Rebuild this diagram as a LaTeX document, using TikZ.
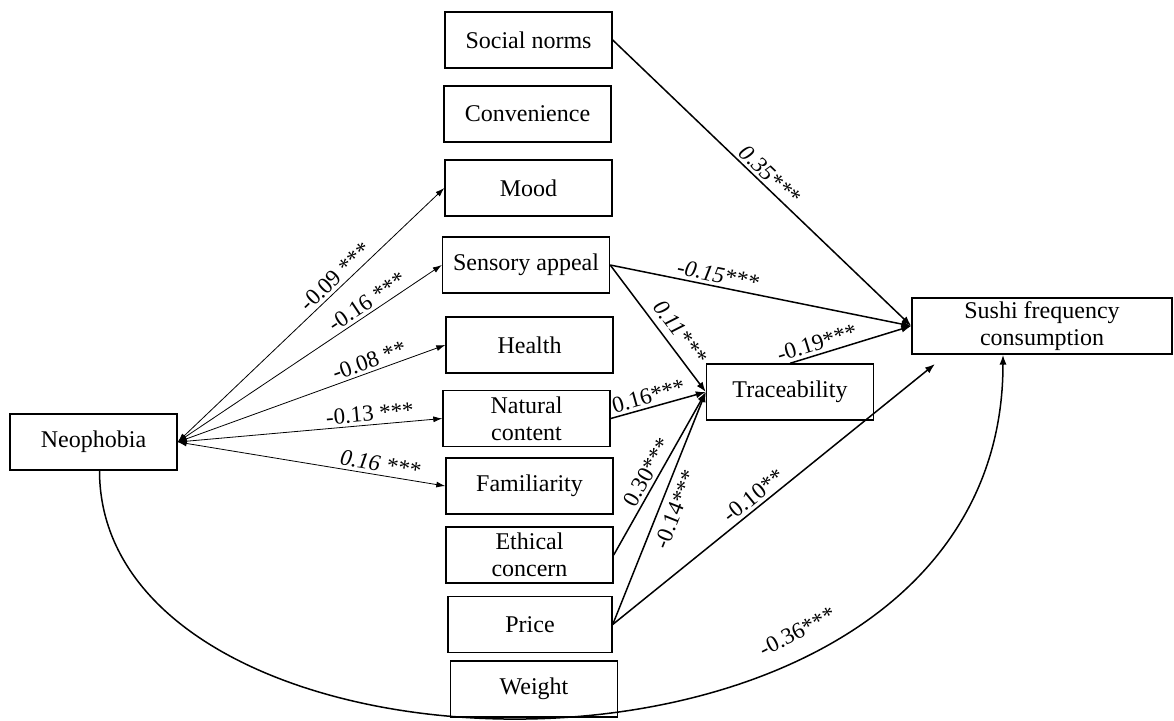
\documentclass[tikz,border=0pt]{standalone}
\usepackage{fontspec}
\setmainfont{Liberation Serif}
\usetikzlibrary{arrows.meta}
\begin{document}
\begin{tikzpicture}[x=0.5pt,y=-0.5pt,
                    factor/.style={draw,line width=0.7pt,minimum width=83.5pt,minimum height=28pt,
                      inner sep=1pt,align=center,font=\fontsize{12}{13.5}\selectfont},
                    effect/.style={line width=0.75pt,-{Latex[length=5pt,width=3.6pt]}},
                    link/.style={line width=0.4pt,
                      {Latex[length=4.5pt,width=3pt]}-{Latex[length=4.5pt,width=3pt]}},
                    coef/.style={sloped,inner sep=1.5pt,font=\fontsize{11.5}{12}\selectfont}
                   ]
   \useasboundingbox (0,0) rectangle (1174,720);
   \node[factor] (social) at (528.5,40) {Social norms};
   \node[factor] (conv) at (527.5,114) {Convenience};
   \node[factor] (mood) at (528.5,188) {Mood};
   \node[factor] (sens) at (526,265) {Sensory appeal};
   \node[factor] (health) at (529.5,345) {Health};
   \node[factor] (natural) at (526.5,418.5) {Natural\\content};
   \node[factor] (famil) at (529.5,486) {Familiarity};
   \node[factor] (ethic) at (529.5,555) {Ethical\\concern};
   \node[factor,minimum width=82pt] (price) at (530,624.5) {Price};
   \node[factor] (weight) at (534,689) {Weight};
   \node[factor] (neo) at (93.5,442) {Neophobia};
   \node[factor] (trace) at (790,392) {Traceability};
   \node[factor,minimum width=130pt] (sushi) at (1042,326) {Sushi frequency\\consumption};
   \coordinate (sushiin) at (935,364);
   % neophobia and the motives
   \path[link]%
     (neo.east) edge node [coef,pos=0.62,above] {-0.09 ***} (mood.west)
     (neo.east) edge node [coef,pos=0.74,above] {-0.16 ***} (sens.west)
     (neo.east) edge node [coef,pos=0.73,above] {-0.08 **} (health.west)
     (neo.east) edge node [coef,pos=0.73,above] {-0.13 ***} (natural.west)
     (neo.east) edge node [coef,pos=0.75,above] {\itshape 0.16 ***} (famil.west);
   % paths to traceability and consumption
   \path[effect]%
     (social.east) edge node [coef,pos=0.5,above] {\itshape 0.35***} (sushi.west)
     (sens.east) edge node [coef,pos=0.35,above] {\itshape -0.15***} (sushi.west)
     (sens.east) edge node [coef,pos=0.6,above=2pt] {\itshape 0.11***} (trace.west)
     (natural.east) edge node [coef,pos=0.43,above] {0.16***} (trace.west)
     (ethic.east) edge node [coef,pos=0.47,above] {0.30***} (trace.west)
     (price.east) edge node [coef,pos=0.52,below=2pt] {-0.14***} (trace.west)
     (price.east) edge node [coef,pos=0.46,above] {-0.10**} (sushiin)
     (trace.north) edge node [coef,pos=0.25,above] {-0.19***} (sushi.west);
   \draw[effect] ([xshift=3pt]neo.south) .. controls (100,808) and (1003,829) ..
     ([xshift=-19.5pt]sushi.south) node [coef,pos=0.7,above=6pt] {-0.36***};
\end{tikzpicture}
\end{document}
